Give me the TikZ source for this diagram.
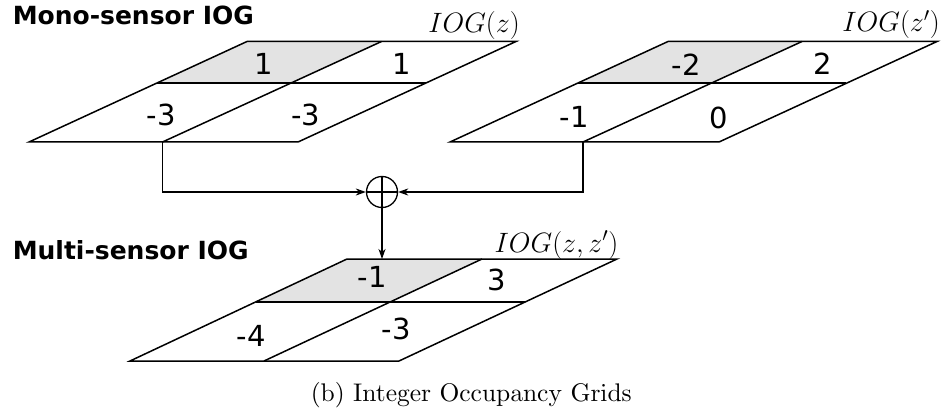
\RequirePackage{fix-cm}
\documentclass[tikz,border=0pt]{standalone}
\usepackage{fontspec}
\setsansfont{DejaVu Sans}
\usetikzlibrary{arrows.meta}
\font\capfont=cmr10 at 25.5pt
\begin{document}
\begin{tikzpicture}[x=1pt,y=-1pt, line width=1.5pt,
  cell/.style={font=\sffamily\fontsize{29}{33}\selectfont, inner sep=0pt},
  head/.style={font=\sffamily\bfseries\fontsize{25}{29}\selectfont, inner sep=0pt, anchor=base west},
  gridlabel/.style={font=\fontsize{28}{32}\selectfont, inner sep=0pt, anchor=base east},
  conn/.style={-{Stealth[length=10pt,width=7pt,inset=3pt]}, line width=1.4pt},
  shade/.style={fill=black!11}]
\useasboundingbox (0,0) rectangle (941,414);

% ---------- grid 1 ----------
\coordinate (a1) at (247,41.5); \coordinate (b1) at (516,41.5);
\coordinate (c1) at (298,142);  \coordinate (d1) at (29,142);
\coordinate (ml1) at (157,83);  \coordinate (mr1) at (426,83);
\coordinate (dt1) at (381.5,41.5); \coordinate (dm1) at (291,83); \coordinate (db1) at (162.5,142);
\fill[shade] (a1) -- (dt1) -- (dm1) -- (ml1) -- cycle;
\draw (a1) -- (b1) -- (c1) -- (d1) -- cycle;
\draw (ml1) -- (mr1);
\draw (dt1) -- (db1);
\node[cell] (g1a) at (264,63.5) {1};
\node[cell] (g1b) at (402,63.5) {1};
\node[cell] (g1c) at (161,114.5) {-3};
\node[cell] (g1d) at (305.5,114.5) {-3};
\node[gridlabel] (l1) at (520.5,32.5) {$IOG(z)$};

% ---------- grid 2 ----------
\coordinate (a2) at (668,41.5); \coordinate (b2) at (937,41.5);
\coordinate (c2) at (719,142);  \coordinate (d2) at (450,142);
\coordinate (ml2) at (578,83);  \coordinate (mr2) at (846,83);
\coordinate (dt2) at (802,41.5); \coordinate (dm2) at (712,83); \coordinate (db2) at (583,142);
\fill[shade] (a2) -- (dt2) -- (dm2) -- (ml2) -- cycle;
\draw (a2) -- (b2) -- (c2) -- (d2) -- cycle;
\draw (ml2) -- (mr2);
\draw (dt2) -- (db2);
\node[cell] (g2a) at (686,65) {-2};
\node[cell] (g2b) at (823,64) {2};
\node[cell] (g2c) at (574,116.5) {-1};
\node[cell] (g2d) at (718.5,117.5) {0};
\node[gridlabel] (l2) at (940.5,32) {$IOG(z')$};

% ---------- grid 3 ----------
\coordinate (a3) at (347,259); \coordinate (b3) at (617,259);
\coordinate (c3) at (399,361); \coordinate (d3) at (130,361);
\coordinate (ml3) at (256,302); \coordinate (mr3) at (525,302);
\coordinate (dt3) at (482,259); \coordinate (dm3) at (390,302); \coordinate (db3) at (264,361);
\fill[shade] (a3) -- (dt3) -- (dm3) -- (ml3) -- cycle;
\draw (a3) -- (b3) -- (c3) -- (d3) -- cycle;
\draw (ml3) -- (mr3);
\draw (dt3) -- (db3);
\node[cell] (g3a) at (372,277) {-1};
\node[cell] (g3b) at (497,279.5) {3};
\node[cell] (g3c) at (251,335.5) {-4};
\node[cell] (g3d) at (396,329) {-3};
\node[gridlabel] (l3) at (619,252) {$IOG(z,z')$};
\coordinate (g3in) at (382,259);

% ---------- headings ----------
\node[head] (h1) at (12,25) {Mono-sensor IOG};
\node[head] (h2) at (12,259) {Multi-sensor IOG};

% ---------- fusion ----------
\node[draw, circle, minimum size=31pt, inner sep=0pt, line width=1.3pt,
  path picture={\draw[line width=1.3pt] (path picture bounding box.north) -- (path picture bounding box.south)
    (path picture bounding box.west) -- (path picture bounding box.east);}] (plus) at (382,192) {};
\draw[conn] (db1) |- (plus);
\draw[conn] (db2) |- (plus);
\draw[conn] (plus) -- (g3in);

% ---------- caption ----------
\node[anchor=base west, inner sep=0pt] (cap) at (310,401) {\capfont (b) Integer Occupancy Grids};
\end{tikzpicture}
\end{document}
